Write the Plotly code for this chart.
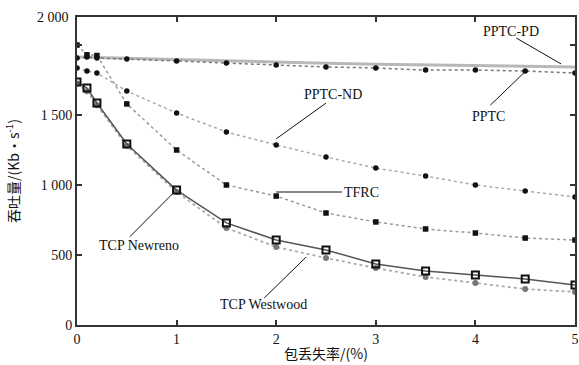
import plotly.graph_objects as go

x = [0, 0.1, 0.2, 0.5, 1, 1.5, 2, 2.5, 3, 3.5, 4, 4.5, 5]

pptc_pd = [1914, 1914, 1910, 1905, 1895, 1885, 1878, 1870, 1862, 1857, 1852, 1848, 1843]
pptc = [1907, 1914, 1907, 1900, 1886, 1871, 1857, 1843, 1836, 1821, 1821, 1814, 1800]
pptc_nd = [1836, 1814, 1800, 1671, 1514, 1379, 1286, 1200, 1121, 1064, 1000, 957, 914]
tfrc = [2000, 1930, 1925, 1579, 1250, 1000, 921, 800, 736, 686, 657, 621, 607]
newreno = [1736, 1693, 1586, 1293, 964, 729, 607, 536, 436, 386, 357, 329, 286]
westwood = [1725, 1670, 1570, 1280, 950, 693, 557, 479, 407, 343, 300, 257, 236]

xticks = [0, 1, 2, 3, 4, 5]
yticks = [0, 500, 1000, 1500, 2000]
yticktext = ["0", "500", "1 000", "1 500", ""]

SERIF = "Liberation Serif, Times New Roman, serif"
CJK = "Noto Sans CJK SC"

fig = go.Figure()

fig.add_trace(go.Scatter(x=x, y=pptc_pd, mode="lines", name="PPTC-PD",
                         line=dict(color="#b8b8b8", width=3)))
fig.add_trace(go.Scatter(x=x, y=pptc, mode="lines+markers", name="PPTC",
                         line=dict(color="#777", width=1.5, dash="dot"),
                         marker=dict(symbol="circle", size=5.5, color="#111")))
fig.add_trace(go.Scatter(x=x, y=pptc_nd, mode="lines+markers", name="PPTC-ND",
                         line=dict(color="#aaa", width=1.5, dash="dot"),
                         marker=dict(symbol="circle", size=5.5, color="#111")))
fig.add_trace(go.Scatter(x=x, y=tfrc, mode="lines+markers", name="TFRC",
                         line=dict(color="#999", width=1.5, dash="dot"),
                         marker=dict(symbol="square", size=5.5, color="#111")))
fig.add_trace(go.Scatter(x=x, y=westwood, mode="lines+markers", name="TCP Westwood",
                         line=dict(color="#aaa", width=1.8, dash="dot"),
                         marker=dict(symbol="circle", size=6, color="#777")))
fig.add_trace(go.Scatter(x=x, y=newreno, mode="lines+markers", name="TCP Newreno",
                         line=dict(color="#555", width=1.5),
                         marker=dict(symbol="square-open", size=7, color="#111",
                                     line=dict(width=2))))


def label(text, tx, ty, xanchor="center"):
    fig.add_annotation(x=tx, y=ty, text=text, showarrow=False, xanchor=xanchor,
                       yanchor="middle", font=dict(family=SERIF, size=14, color="#111"))


def leader(x0, y0, x1, y1):
    fig.add_shape(type="line", x0=x0, y0=y0, x1=x1, y1=y1,
                  line=dict(color="#111", width=1))


label("PPTC-PD", 4.36, 2100)
leader(4.41, 2050, 4.86, 1865)
label("PPTC", 4.13, 1490)
leader(4.15, 1570, 4.5, 1810)
label("PPTC-ND", 2.57, 1650)
leader(2.5, 1585, 2.0, 1330)
label("TFRC", 2.66, 950, xanchor="left")
leader(2.0, 950, 2.66, 950)
label("TCP Newreno", 0.2, 565, xanchor="left")
leader(0.53, 630, 0.97, 945)
label("TCP Westwood", 1.42, 143, xanchor="left")
leader(1.88, 193, 2.3, 485)

fig.add_annotation(x=0, y=1, xref="paper", yref="paper", text="2 000",
                   showarrow=False, xanchor="right", yanchor="middle", xshift=-6,
                   font=dict(family=SERIF, size=14, color="#111"))

axis_common = dict(showgrid=False, zeroline=False, showline=True, linecolor="#333",
                   linewidth=2, mirror="ticks", ticks="inside", ticklen=5,
                   tickcolor="#333", tickwidth=2, automargin=False,
                   tickfont=dict(family=SERIF, size=14, color="#111"))

fig.update_layout(
    width=579, height=365,
    margin=dict(l=77, r=4, t=17, b=40),
    paper_bgcolor="white", plot_bgcolor="white",
    showlegend=False,
    xaxis=dict(range=[0, 5], tickvals=xticks,
               title=dict(text="包丢失率/(%)", font=dict(family=CJK, size=14, color="#111"),
                          standoff=3),
               **axis_common),
    yaxis=dict(range=[0, 2200], tickvals=yticks, ticktext=yticktext,
               title=dict(text="吞吐量/(Kb·s<sup>-1</sup>)",
                          font=dict(family=CJK, size=14, color="#111"), standoff=18),
               **axis_common),
)

fig.write_html("out.html", config={"displayModeBar": False})

with open("out.html", "r", encoding="utf-8") as f:
    html = f.read()
html = html.replace("<head>", "<head><style>html,body{margin:0;padding:0;overflow:hidden;}</style>", 1)
with open("out.html", "w", encoding="utf-8") as f:
    f.write(html)
